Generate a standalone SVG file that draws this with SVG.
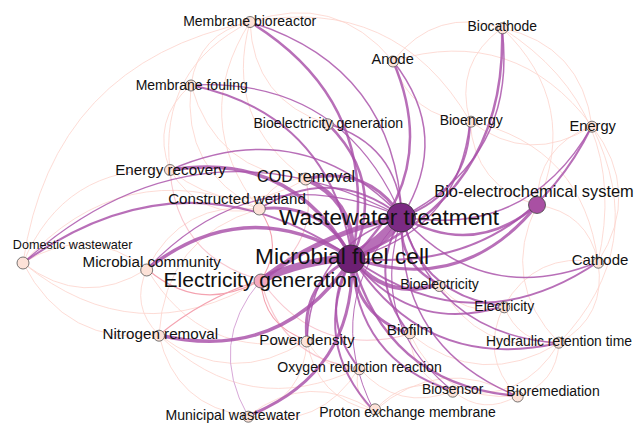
<svg xmlns="http://www.w3.org/2000/svg" width="636" height="423" viewBox="0 0 636 423">
<style>
.l{stroke:#fcd3cc;stroke-width:0.8;fill:none}
.k{stroke:#f4a3b0;stroke-width:1.1;fill:none}
.q{stroke:#d8a8d8;stroke-width:1;fill:none}
.p{stroke:#a84fa8;stroke-opacity:0.82;fill:none;stroke-linecap:round}
.s{fill:#fde2d8;stroke:#555;stroke-width:0.8}
.t{font-family:"Liberation Sans",Arial,sans-serif;fill:#111;text-anchor:middle}
</style>
<rect width="636" height="423" fill="#fff"/>
<g id="connectors">
<g id="light">
<path class="l" d="M250 22 Q198.5 32.85 191 85"/>
<path class="l" d="M191 85 Q150.75 120.15 170 170"/>
<path class="l" d="M250 22 Q158.2 68 170 170"/>
<path class="l" d="M250 22 Q189 118.65 259 209"/>
<path class="l" d="M191 85 Q181.6 170.8 259 209"/>
<path class="l" d="M191 85 Q215.6 172.25 306 179"/>
<path class="l" d="M250 22 Q223 120.1 306 179"/>
<path class="l" d="M170 170 Q200.85 220.65 259 209"/>
<path class="l" d="M170 170 Q64 165 23 263"/>
<path class="l" d="M147 269 Q87.1 222.6 23 263"/>
<path class="l" d="M23 263 Q82.9 309.4 147 269"/>
<path class="l" d="M23 263 Q65.8 346.6 159 335"/>
<path class="l" d="M23 263 Q136 354.8 261 280"/>
<path class="l" d="M259 209 Q122.1 153.4 23 263"/>
<path class="l" d="M147 269 Q129.9 306.2 159 335"/>
<path class="l" d="M259 209 Q182 199.8 147 269"/>
<path class="l" d="M159 335 Q175.15 406.65 248 416"/>
<path class="l" d="M159 335 Q231.25 389.3 307 340"/>
<path class="l" d="M248 416 Q304.1 398.65 307 340"/>
<path class="l" d="M248 416 Q320.3 430.85 359 368"/>
<path class="l" d="M374 411 Q309.25 369.4 248 416"/>
<path class="l" d="M307 340 Q323.2 372.2 359 368"/>
<path class="l" d="M359 368 Q351.5 394.75 374 411"/>
<path class="l" d="M307 340 Q315.65 398.95 374 411"/>
<path class="l" d="M359 368 Q398 412.4 453 391"/>
<path class="l" d="M453 391 Q406.5 373.35 374 411"/>
<path class="l" d="M453 391 Q483.25 415.9 517 396"/>
<path class="l" d="M410 334 Q411.5 377.5 453 391"/>
<path class="l" d="M410 334 Q441.8 402.45 517 396"/>
<path class="l" d="M504 306 Q479 355.55 517 396"/>
<path class="l" d="M504 306 Q518.55 343.75 559 343"/>
<path class="l" d="M517 396 Q556.55 384.2 559 343"/>
<path class="l" d="M559 343 Q606.85 316.15 598 262"/>
<path class="l" d="M598 262 Q535.6 251.1 504 306"/>
<path class="l" d="M598 262 Q587.5 212.15 537 205"/>
<path class="l" d="M592 126 Q536.85 146.25 537 205"/>
<path class="l" d="M598 262 Q642.6 191.9 592 126"/>
<path class="l" d="M592 126 Q581.3 45.5 502 28"/>
<path class="l" d="M502 28 Q453.45 63.3 470 121"/>
<path class="l" d="M502 28 Q436 6.35 393 61"/>
<path class="l" d="M393 61 Q410.5 118 470 121"/>
<path class="l" d="M592 126 Q515.25 23.85 393 61"/>
<path class="l" d="M470 121 Q474.1 186.45 537 205"/>
<path class="l" d="M470 121 Q529.25 166.2 592 126"/>
<path class="l" d="M537 205 Q581.5 104.25 502 28"/>
<path class="l" d="M250 22 Q253.3 100.3 328 124"/>
<path class="l" d="M170 170 Q234.85 222.1 306 179"/>
<path class="l" d="M306 179 Q272 177.55 259 209"/>
<path class="l" d="M470 121 Q395.5 -5.85 250 22"/>
<path class="l" d="M393 61 Q335.15 -8.5 250 22"/>
<path class="l" d="M537 205 Q499.7 281.7 559 343"/>
<path class="l" d="M559 343 Q651.45 246 592 126"/>
<path class="l" d="M598 262 Q583.35 146.7 470 121"/>
<path class="l" d="M598 262 Q631.9 111.4 502 28"/>
<path class="l" d="M439 284 Q463.8 317.75 504 306"/>
<path class="l" d="M439 284 Q478.35 355.5 559 343"/>
<path class="l" d="M410 334 Q481.35 390.65 559 343"/>
<path class="l" d="M453 391 Q522.8 404.1 559 343"/>
<path class="l" d="M517 396 Q440.25 353.5 374 411"/>
<path class="l" d="M250 22 Q52.15 63 23 263"/>
<path class="l" d="M259 209 Q164.9 237 159 335"/>
<path class="l" d="M159 335 Q247.45 421.5 359 368"/>
<path class="l" d="M147 269 Q202.15 361.5 307 340"/>
</g>
<g id="pink">
<path class="k" d="M147 269 Q200.15 314.4 261 280"/>
<path class="k" d="M261 280 Q204.5 297.3 159 335"/>
<path class="k" d="M261 280 Q284.85 243.8 259 209"/>
<path class="k" d="M261 280 Q263 326.1 307 340"/>
<path class="q" d="M261 280 Q206.9 343.45 248 416"/>
<path class="k" d="M261 280 Q319.2 245.75 306 179" stroke-opacity="0.6"/>
<path class="k" d="M170 170 Q176.65 257.35 261 280" stroke-opacity="0.6"/>
<path class="k" d="M261 280 Q279.55 358.8 359 368" stroke-opacity="0.6"/>
<path class="k" d="M261 280 Q317 359.65 410 334" stroke-opacity="0.6"/>
</g>
<g id="purple">
<path class="p" stroke-width="1.5" d="M402 217 Q394.25 66.3 250 22"/>
<path class="p" stroke-width="1.2" d="M402 217 Q342.7 77.15 191 85"/>
<path class="p" stroke-width="1.5" d="M402 217 Q452.1 135.85 393 61"/>
<path class="p" stroke-width="1.5" d="M402 217 Q518.15 157.5 502 28"/>
<path class="p" stroke-width="2" d="M402 217 Q469.6 192.8 470 121"/>
<path class="p" stroke-width="1.5" d="M402 217 Q528.85 238 592 126"/>
<path class="p" stroke-width="2.5" d="M402 217 Q473.7 258.25 537 205"/>
<path class="p" stroke-width="1.5" d="M402 217 Q484.25 308.1 598 262"/>
<path class="p" stroke-width="2.5" d="M402 217 Q397 263.5 439 284"/>
<path class="p" stroke-width="2" d="M402 217 Q421.85 297.2 504 306"/>
<path class="p" stroke-width="1.5" d="M402 217 Q436.4 335 559 343"/>
<path class="p" stroke-width="1.5" d="M402 217 Q396.85 346.75 517 396"/>
<path class="p" stroke-width="1.2" d="M402 217 Q366.6 321.85 453 391"/>
<path class="p" stroke-width="2" d="M402 217 Q365 278.3 410 334"/>
<path class="p" stroke-width="3" d="M402 217 Q367.3 164.4 306 179"/>
<path class="p" stroke-width="2" d="M402 217 Q333.3 163 259 209"/>
<path class="p" stroke-width="1.5" d="M402 217 Q302.45 112.3 170 170"/>
<path class="p" stroke-width="1.2" d="M402 217 Q196.4 107.35 23 263"/>
<path class="p" stroke-width="1.5" d="M402 217 Q397.55 144.6 328 124"/>
<path class="p" stroke-width="1.2" d="M402 217 Q256.3 153.75 147 269"/>
<path class="p" stroke-width="1.5" d="M402 217 Q311.5 245.5 307 340"/>
<path class="p" stroke-width="1" d="M402 217 Q320 304 374 411"/>
<path class="p" stroke-width="2.5" d="M352 258 Q383.6 104.3 250 22"/>
<path class="p" stroke-width="2" d="M352 258 Q332 115 191 85"/>
<path class="p" stroke-width="2.5" d="M352 258 Q441.5 173.9 393 61"/>
<path class="p" stroke-width="2.5" d="M352 258 Q507.5 195.5 502 28"/>
<path class="p" stroke-width="1.5" d="M352 258 Q459 230.8 470 121"/>
<path class="p" stroke-width="2" d="M352 258 Q518 276 592 126"/>
<path class="p" stroke-width="2.5" d="M352 258 Q387 182.6 328 124"/>
<path class="p" stroke-width="3.5" d="M352 258 Q291.8 150.3 170 170"/>
<path class="p" stroke-width="3" d="M352 258 Q322.7 200.9 259 209"/>
<path class="p" stroke-width="3" d="M352 258 Q463 296 537 205"/>
<path class="p" stroke-width="2" d="M352 258 Q185.7 145.3 23 263"/>
<path class="p" stroke-width="3.5" d="M352 258 Q245.6 191.8 147 269"/>
<path class="p" stroke-width="3.5" d="M159 335 Q282.5 364 352 258"/>
<path class="p" stroke-width="2" d="M352 258 Q473.6 346 598 262"/>
<path class="p" stroke-width="4" d="M352 258 Q386.4 301.5 439 284"/>
<path class="p" stroke-width="2" d="M352 258 Q411.2 335.2 504 306"/>
<path class="p" stroke-width="3" d="M352 258 Q300.8 283.25 307 340"/>
<path class="p" stroke-width="3" d="M352 258 Q354.4 316.3 410 334"/>
<path class="p" stroke-width="2" d="M352 258 Q425.75 373 559 343"/>
<path class="p" stroke-width="2" d="M352 258 Q317 315.5 359 368"/>
<path class="p" stroke-width="2" d="M352 258 Q356 360 453 391"/>
<path class="p" stroke-width="2.5" d="M352 258 Q386.2 384.75 517 396"/>
<path class="p" stroke-width="3" d="M248 416 Q355.3 373.4 352 258"/>
<path class="p" stroke-width="2" d="M352 258 Q309.5 342.2 374 411"/>
<path class="p" stroke-width="4.5" d="M352 258 Q356.7 202.4 306 179"/>
<path class="p" stroke-width="5" d="M402 217 Q324 231.6 261 280"/>
<path class="p" stroke-width="7.5" d="M352 258 Q304.3 259.9 261 280"/>
<path class="p" stroke-width="11" d="M352 258 Q381 242.5 402 217"/>
</g>
</g>
<g id="n-domestic"><circle class="s" cx="23" cy="263" r="6"/><text class="t" x="72.7" y="249" font-size="12.6">Domestic wastewater</text></g>
<g id="n-mbr"><circle class="s" cx="250" cy="22" r="5.5"/><text class="t" x="249.7" y="25.5" font-size="14">Membrane bioreactor</text></g>
<g id="n-mf"><circle class="s" cx="191" cy="85.5" r="5.5"/><text class="t" x="191.7" y="89.5" font-size="14">Membrane fouling</text></g>
<g id="n-anode"><circle class="s" cx="393" cy="61.5" r="5.5"/><text class="t" x="392.7" y="63.5" font-size="14.6">Anode</text></g>
<g id="n-biocathode"><circle class="s" cx="502.5" cy="28.3" r="5.5"/><text class="t" x="502.3" y="31" font-size="13.9">Biocathode</text></g>
<g id="n-bg"><circle class="s" cx="327.7" cy="124.3" r="5.5"/><text class="t" x="328.3" y="128.3" font-size="14.1">Bioelectricity generation</text></g>
<g id="n-bioenergy"><circle class="s" cx="471" cy="121.7" r="5.5"/><text class="t" x="471.2" y="124.5" font-size="14">Bioenergy</text></g>
<g id="n-energy"><circle class="s" cx="592" cy="126.7" r="5.5"/><text class="t" x="592.7" y="130.7" font-size="14.7">Energy</text></g>
<g id="n-er"><circle class="s" cx="170" cy="170" r="5.5"/><text class="t" x="170.5" y="174.5" font-size="15.2">Energy recovery</text></g>
<g id="n-cod"><circle class="s" cx="305.7" cy="179" r="6"/><text class="t" x="306" y="182" font-size="16.2">COD removal</text></g>
<g id="n-cw"><circle class="s" cx="259.3" cy="209" r="6"/><text class="t" x="237" y="204" font-size="15.1">Constructed wetland</text></g>
<g id="n-mc"><circle class="s" cx="146.7" cy="270" r="6"/><text class="t" x="151.7" y="266.7" font-size="15.2">Microbial community</text></g>
<g id="n-nr"><circle class="s" cx="159" cy="335.7" r="5.5"/><text class="t" x="160.3" y="338.5" font-size="15.2">Nitrogen removal</text></g>
<g id="n-pd"><circle class="s" cx="306.7" cy="341.5" r="5.5"/><text class="t" x="307" y="345" font-size="15.2">Power density</text></g>
<g id="n-orr"><circle class="s" cx="359.3" cy="369.3" r="5.5"/><text class="t" x="359.5" y="371.8" font-size="14.1">Oxygen reduction reaction</text></g>
<g id="n-pem"><circle class="s" cx="375" cy="409.3" r="5.5"/><text class="t" x="407.5" y="417.3" font-size="14">Proton exchange membrane</text></g>
<g id="n-mw"><circle class="s" cx="248.3" cy="416.7" r="5.5"/><text class="t" x="232.8" y="420" font-size="14.1">Municipal wastewater</text></g>
<g id="n-biofilm"><circle class="s" cx="410" cy="333.3" r="5.5"/><text class="t" x="409.7" y="335.3" font-size="15.3">Biofilm</text></g>
<g id="n-biosensor"><circle class="s" cx="452.7" cy="391.7" r="5.5"/><text class="t" x="452.7" y="394" font-size="13.8">Biosensor</text></g>
<g id="n-bioremediation"><circle class="s" cx="517.7" cy="396.5" r="5.5"/><text class="t" x="553" y="396.3" font-size="14">Bioremediation</text></g>
<g id="n-hrt"><circle class="s" cx="558.7" cy="342.7" r="5.5"/><text class="t" x="559" y="345.8" font-size="13.9">Hydraulic retention time</text></g>
<g id="n-electricity"><circle class="s" cx="504.3" cy="307.3" r="5.5"/><text class="t" x="504.3" y="310.8" font-size="14">Electricity</text></g>
<g id="n-bioelectricity"><circle class="s" cx="439.3" cy="286" r="5.5"/><text class="t" x="439.5" y="289.3" font-size="14">Bioelectricity</text></g>
<g id="n-cathode"><circle class="s" cx="598.3" cy="262.7" r="5.5"/><text class="t" x="600" y="265.2" font-size="15">Cathode</text></g>
<g id="n-bes"><circle cx="537" cy="205" r="8.5" fill="#a950a3" stroke="#444" stroke-width="0.8"/><text class="t" x="534" y="196.5" font-size="16.4">Bio-electrochemical system</text></g>
<g id="n-eg"><circle cx="261" cy="281" r="7" fill="#f4a9c0" stroke="#555" stroke-width="0.8"/><text class="t" x="261" y="287.3" font-size="21">Electricity generation</text></g>
<g id="n-wwt"><circle cx="401" cy="217.5" r="14.5" fill="#7b2a83" stroke="#333" stroke-width="0.8"/><text class="t" x="389" y="225" font-size="22.6">Wastewater treatment</text></g>
<g id="n-mfc"><circle cx="351" cy="259" r="14" fill="#6d1f73" stroke="#333" stroke-width="0.8"/><text class="t" x="342" y="264.3" font-size="22.7">Microbial fuel cell</text></g>
</svg>
